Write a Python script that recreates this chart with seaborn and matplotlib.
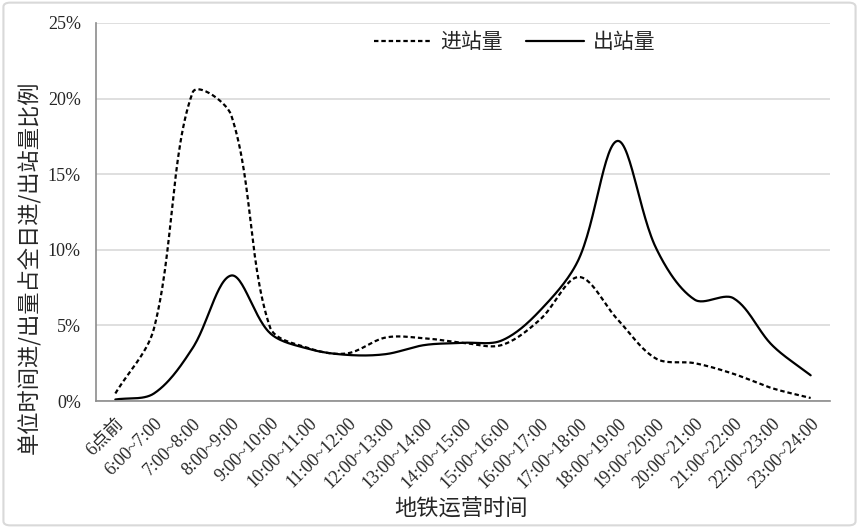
import numpy as np
import matplotlib
matplotlib.use('Agg')
import matplotlib.pyplot as plt
import seaborn as sns
from matplotlib.lines import Line2D
from matplotlib.patches import FancyBboxPatch


periods = ['6点前', '6:00~7:00', '7:00~8:00', '8:00~9:00', '9:00~10:00', '10:00~11:00',
           '11:00~12:00', '12:00~13:00', '13:00~14:00', '14:00~15:00', '15:00~16:00',
           '16:00~17:00', '17:00~18:00', '18:00~19:00', '19:00~20:00', '20:00~21:00',
           '21:00~22:00', '22:00~23:00', '23:00~24:00']
inbound = [0.5, 4.8, 20.4, 18.9, 4.9, 3.5, 3.15, 4.2, 4.15, 3.85, 3.7, 5.4, 8.2, 5.4, 2.8, 2.5, 1.8, 0.85, 0.2]
outbound = [0.1, 0.5, 3.5, 8.3, 4.5, 3.45, 3.05, 3.1, 3.7, 3.85, 4.0, 6.0, 9.4, 17.2, 10.1, 6.7, 6.8, 3.7, 1.7]
yticks = [0, 5, 10, 15, 20, 25]

SERIF = ['Liberation Serif', 'Noto Sans CJK SC']
CJK = ['Noto Sans CJK SC', 'DejaVu Sans']
YSCALE = 15.12 / 38.6   # pixels per 1% relative to pixels per category


def smooth(values, n = 30):
    # Excel-style smoothed line: bezier segments, tangents scaled by neighbouring chord lengths
    pts = np.column_stack([np.arange(len(values)), values]).astype(float)
    pts = np.vstack([pts[0], pts, pts[-1]])
    scr = pts * [1, YSCALE]
    t = np.linspace(0, 1, n)[:, None]
    out = []
    for i in range(1, len(pts) - 2):
        p0, p1, p2, p3 = pts[i - 1], pts[i], pts[i + 1], pts[i + 2]
        d01 = np.hypot(*(scr[i] - scr[i - 1]))
        d12 = np.hypot(*(scr[i + 1] - scr[i]))
        d23 = np.hypot(*(scr[i + 2] - scr[i + 1]))
        f1 = d12 / (d01 + d12) if d01 + d12 > 0 else 0
        f2 = d12 / (d12 + d23) if d12 + d23 > 0 else 0
        c1 = p1 + (p2 - p0) * f1 / 3
        c2 = p2 - (p3 - p1) * f2 / 3
        seg = (1 - t) ** 3 * p1 + 3 * (1 - t) ** 2 * t * c1 + 3 * (1 - t) * t ** 2 * c2 + t ** 3 * p2
        out.append(seg if i == 1 else seg[1:])
    out = np.vstack(out)
    return out[:, 0], out[:, 1]


sns.set_style('white')
plt.rcParams['font.family'] = SERIF

fig = plt.figure(figsize = (8.59, 5.28), dpi = 100)
ax = fig.add_axes([0.1118, 0.2405, 0.8544, 0.716])

x_in, y_in = smooth(inbound)
x_out, y_out = smooth(outbound)
sns.lineplot(x = x_in, y = y_in, sort = False, ax = ax, color = 'black', linewidth = 1.6)
ax.lines[-1].set_dashes((2.0, 1.3))
sns.lineplot(x = x_out, y = y_out, sort = False, ax = ax, color = 'black', linewidth = 1.6)

ax.set_xlim(-0.5, len(periods) - 0.5)
ax.set_ylim(0, 25)
ax.set_yticks(yticks)
ax.set_yticklabels([f'{v}%' for v in yticks], fontsize = 13, family = SERIF)
ax.yaxis.grid(True, color = '#d9d9d9', linewidth = 1.2)
ax.set_axisbelow(True)

ax.set_xticks(range(len(periods)))
ax.set_xticklabels(periods, rotation = 45, ha = 'right', rotation_mode = 'anchor', fontsize = 13, family = SERIF)
ax.set_xticks(np.arange(-0.5, len(periods)), minor = True)
ax.tick_params(axis = 'x', which = 'major', length = 0, pad = 10)
ax.tick_params(axis = 'x', which = 'minor', length = 5, width = 1, color = '#8c8c8c', direction = 'out')
ax.tick_params(axis = 'y', length = 0, pad = 11)

for side in ['top', 'right']:
    ax.spines[side].set_visible(False)
for side in ['left', 'bottom']:
    ax.spines[side].set_color('#8c8c8c')
    ax.spines[side].set_linewidth(1.2)

ax.set_ylabel('单位时间进/出量占全日进/出站量比例', fontsize = 16, family = CJK, color = '#262626')
ax.yaxis.set_label_coords(-0.074, 0.355)
ax.set_xlabel('地铁运营时间', fontsize = 16, family = CJK, color = '#262626')
ax.xaxis.set_label_coords(0.497, -0.255)

handles = [Line2D([], [], color = 'black', linewidth = 1.6, dashes = (2.0, 1.3)),
           Line2D([], [], color = 'black', linewidth = 1.6)]
ax.legend(handles, ['进站量', '出站量'], loc = 'center', bbox_to_anchor = (0.57, 0.95), ncol = 2,
          frameon = False, handlelength = 2.8, columnspacing = 1.1, handletextpad = 0.4,
          prop = {'family': CJK, 'size': 15})

fig.patches.append(FancyBboxPatch((0.004, 0.005), 0.992, 0.99, boxstyle = 'round,pad=0,rounding_size=0.008',
                                  transform = fig.transFigure, facecolor = 'none', edgecolor = '#d9d9d9', linewidth = 1.5))

fig.savefig('out.png', dpi = 100)
